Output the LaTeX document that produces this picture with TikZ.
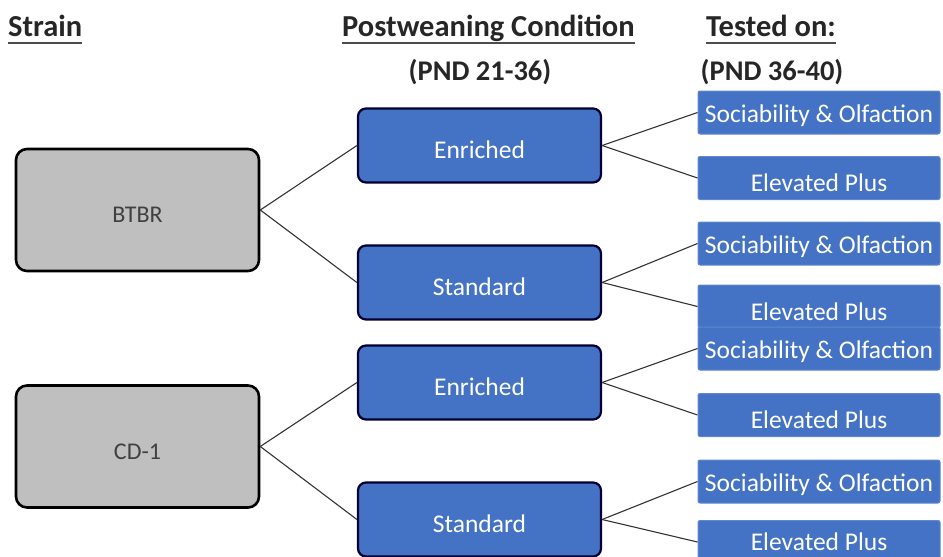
\documentclass[tikz,border=0pt]{standalone}
\usepackage{fontspec}
\setmainfont{Carlito}
% lower a label's ink while keeping its box where it was
\newcommand{\dn}[2]{\raisebox{-#1pt}[\height][\depth]{#2}}
\begin{document}
\begin{tikzpicture}[x=1pt,y=-1pt,
  strainbox/.style={draw=black,line width=2.6pt,fill=gray!50!white,rounded corners=11pt,
    minimum width=243pt,minimum height=122pt,text=black!75,font=\fontsize{24}{30}\selectfont},
  condbox/.style={draw=black!80!blue,line width=2.2pt,fill=condblue,rounded corners=8pt,
    minimum width=243pt,minimum height=74pt,text=white,font=\fontsize{25.5}{30}\selectfont},
  testbox/.style={draw=condblue!85!white,line width=1pt,fill=condblue,rounded corners=2pt,
    minimum width=242pt,minimum height=43pt,text=white,font=\fontsize{25.5}{30}\selectfont,inner sep=0pt},
  head/.style={font=\bfseries\fontsize{30.5}{36}\selectfont,inner sep=0pt,text=black!85},
  subhead/.style={head,font=\bfseries\fontsize{28.5}{34}\selectfont},
  ul/.style={line width=2pt,black!70},
  link/.style={line width=1.1pt,black!80}]
\definecolor{condblue}{HTML}{4472C4}
\useasboundingbox (0,0) rectangle (943,557);
\begin{scope}
\clip (0,0) rectangle (943,557);

% column headers
\node[head,anchor=base west] (hstrain) at (8,36) {Strain};
\node[head,anchor=base west] (hcond) at (342,36) {Postweaning Condition};
\node[head,anchor=base west] (htest) at (706,36) {Tested on:};
\node[subhead,anchor=base] (hcondage) at (480,80) {(PND 21-36)};
\node[subhead,anchor=base] (htestage) at (772,80) {(PND 36-40)};
\foreach \h in {hstrain,hcond,htest}
  \draw[ul] ([yshift=-7pt]\h.base west) -- ([yshift=-7pt]\h.base east);

% strains
\node[strainbox] (btbr) at (137.5,210) {\dn{5}{BTBR}};
\node[strainbox] (cd) at (137.5,446.5) {\dn{5}{CD-1}};

% postweaning conditions
\node[condbox] (e1) at (479.5,145.5) {\dn{4}{Enriched}};
\node[condbox] (s1) at (479.5,282.5) {\dn{4}{Standard}};
\node[condbox] (e2) at (479.5,382.5) {\dn{4}{Enriched}};
\node[condbox] (s2) at (479.5,519.5) {\dn{4}{Standard}};

% tests
\node[testbox] (t1) at (819,112.5) {\dn{3}{Sociability \& Olfaction}};
\node[testbox] (t2) at (819,178) {\dn{5}{Elevated Plus}};
\node[testbox] (t3) at (819,243.5) {\dn{3}{Sociability \& Olfaction}};
\node[testbox] (t4) at (819,306.5) {\dn{5}{Elevated Plus}};
\node[testbox] (t5) at (819,348.5) {\dn{3}{Sociability \& Olfaction}};
\node[testbox] (t6) at (819,415) {\dn{5}{Elevated Plus}};
\node[testbox] (t7) at (819,481.5) {\dn{3}{Sociability \& Olfaction}};
\node[testbox] (t8) at (819,542) {\dn{0}{Elevated Plus}};

% connectors
\draw[link] (btbr.east) -- (e1.west);
\draw[link] (btbr.east) -- (s1.west);
\draw[link] (cd.east) -- (e2.west);
\draw[link] (cd.east) -- (s2.west);
\draw[link] (e1.east) -- (t1.west);
\draw[link] (e1.east) -- (t2.west);
\draw[link] (s1.east) -- (t3.west);
\draw[link] (s1.east) -- (t4.west);
\draw[link] (e2.east) -- (t5.west);
\draw[link] (e2.east) -- (t6.west);
\draw[link] (s2.east) -- (t7.west);
\draw[link] (s2.east) -- (t8.west);
\end{scope}
\end{tikzpicture}
\end{document}
